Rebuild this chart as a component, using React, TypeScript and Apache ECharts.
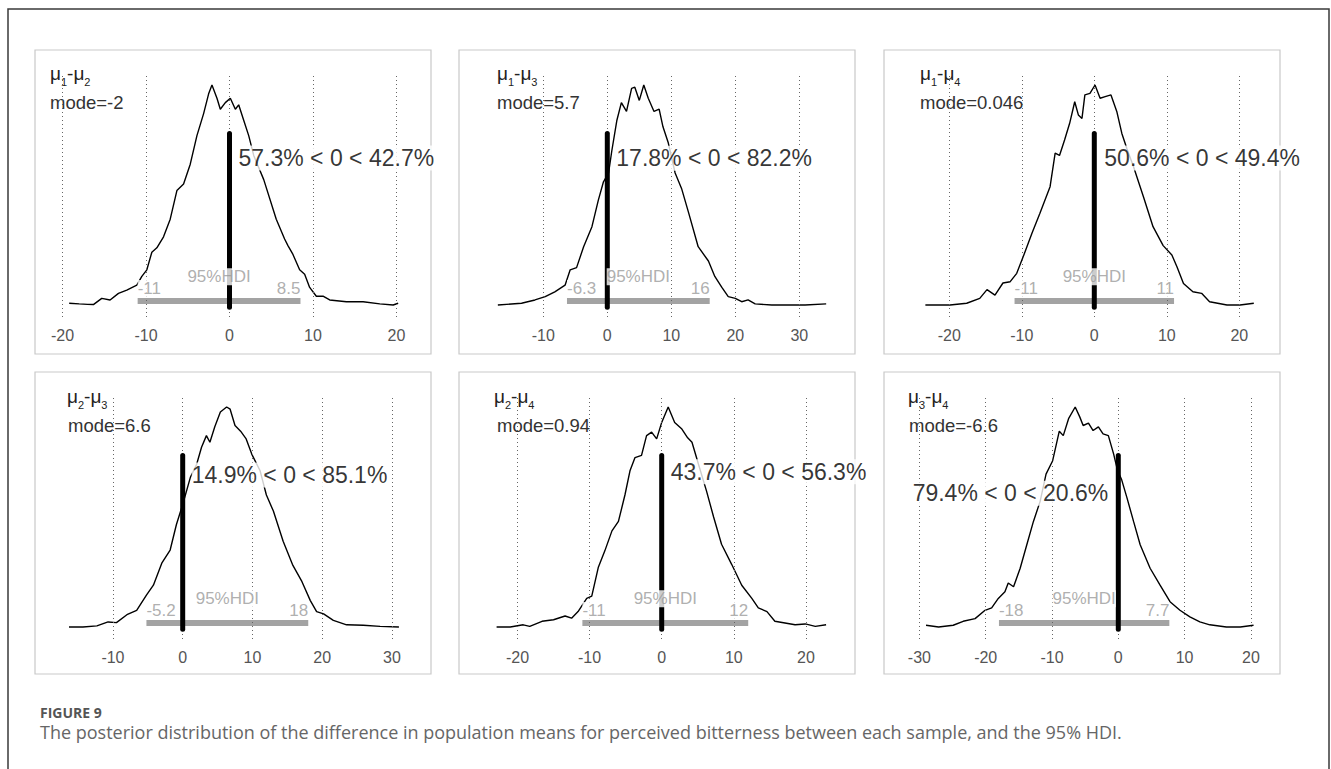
import React, { useEffect, useRef } from "react";
import * as echarts from "echarts";

// ---------- DATA ----------
const titleSubs = [["1", "2"], ["1", "3"], ["1", "4"], ["2", "3"], ["2", "4"], ["3", "4"]];
const modeLabels = ["mode=-2", "mode=5.7", "mode=0.046", "mode=6.6", "mode=0.94", "mode=-6.6"];
const pctLabels = [
  "57.3% < 0 < 42.7%",
  "17.8% < 0 < 82.2%",
  "50.6% < 0 < 49.4%",
  "14.9% < 0 < 85.1%",
  "43.7% < 0 < 56.3%",
  "79.4% < 0 < 20.6%",
];
const hdiLow = [-11, -6.3, -11, -5.2, -11, -18];
const hdiHigh = [8.5, 16, 11, 18, 12, 7.7];
const hdiLowLabels = ["-11", "-6.3", "-11", "-5.2", "-11", "-18"];
const hdiHighLabels = ["8.5", "16", "11", "18", "12", "7.7"];
const compValue = 0;
const tickValues = [
  [-20, -10, 0, 10, 20],
  [-10, 0, 10, 20, 30],
  [-20, -10, 0, 10, 20],
  [-10, 0, 10, 20, 30],
  [-20, -10, 0, 10, 20],
  [-30, -20, -10, 0, 10, 20],
];
const xRanges = [
  [-20, 20.3],
  [-17.2, 34.3],
  [-23.4, 22.1],
  [-16.4, 31.1],
  [-23, 22.9],
  [-30, 20.5],
];

// relative posterior density (percent of the peak)
const density12 = [[-19.2,0.8],[-18,0.5],[-17,0.3],[-16.3,0.2],[-15.3,3],[-14.3,2.3],[-13.3,5.3],[-12.3,6.8],[-11.1,9],[-10.5,13],[-9.9,16],[-9.3,24],[-8.7,26],[-7.9,31],[-7.1,39],[-6.3,52],[-5.5,55],[-4.7,64],[-3.9,77],[-3.1,87],[-2.5,96],[-2.1,100],[-1.5,94],[-1.1,89],[-0.5,92],[0.1,94],[0.7,89],[1.1,91],[1.7,84],[2.3,77],[2.9,68],[4.1,57],[5.6,39],[6.6,30],[7,27],[7.6,23],[8.4,16],[9,14],[9.6,8],[10.4,4],[11.2,4],[12,2.3],[14,1.5],[16,1.5],[18,0.5],[19.6,0],[20.2,0.8]];
const density13 = [[-17.1,0],[-13.4,0.8],[-11.3,2.3],[-9.7,3.8],[-8.2,6],[-6.6,9],[-5.8,16],[-4.8,17],[-3.7,26.5],[-2.4,35.6],[-1.4,47.7],[-0.6,56],[0.2,60],[0.7,70],[1.5,84],[2.2,92],[3,88],[3.8,98.5],[4.3,99],[5,93],[5.7,100],[6.4,94],[7.3,88],[8.1,89],[8.7,81],[9.5,74],[10.6,60],[11.6,53],[12.7,42],[14.2,26.5],[15.8,20],[16.8,13],[17.9,8],[18.9,3.8],[20,3],[21,1.5],[22,2.3],[23.1,0.5],[25.7,0],[28.3,0],[30.9,0],[34.2,0.5]];
const density14 = [[-23.3,0],[-21.7,0],[-19.9,0],[-17.6,0.8],[-15.8,3],[-14.8,7],[-13.7,4.5],[-12.6,10],[-11.6,10.6],[-10.7,14.4],[-9.8,22],[-8.6,32.6],[-7.5,41.7],[-6.1,53.8],[-5.4,69],[-4.8,68],[-4.1,75],[-3.4,82.6],[-2.7,92.4],[-2.2,86.4],[-1.7,84.8],[-1.3,95.5],[-0.6,96.2],[0.1,100],[0.8,94],[1.5,94.7],[2.3,95.5],[3.1,88],[3.8,78],[4.5,71],[5.4,63],[6.8,49],[8.1,35.6],[9.5,27],[10.7,22.7],[11.4,17.4],[12.3,9.8],[13.6,6],[14.8,5.3],[15.9,1.5],[18.3,0],[20.1,0],[22,0.8]];
const density23 = [[-16.3,0],[-14.3,0],[-12.3,0.5],[-10.7,2.3],[-9.5,2],[-8,5.6],[-6.6,7.6],[-5.2,14.5],[-4.2,19],[-3,29],[-1.8,35],[-0.9,46.6],[0,55.7],[1.1,68],[2,74],[2.7,81.7],[3.4,87],[3.9,84],[4.6,91],[5.4,97.7],[6.3,100],[6.8,99],[7.5,91.6],[8.3,89],[9.1,85.5],[9.9,78.6],[11.1,71],[12,60],[13,52.7],[14.4,39],[15.8,28],[17.1,20.6],[18.3,12],[19.2,7],[20.2,6],[21.6,3],[23.5,1],[25.9,0.8],[28.3,0.3],[31,0]];
const density24 = [[-22.9,0],[-21,0],[-19.2,1],[-18.3,0.3],[-16.6,2.6],[-15,3.3],[-13.4,5],[-12.5,4],[-11.6,7],[-10.4,13],[-9.7,14],[-8.8,27],[-7.9,34.5],[-6.9,43.7],[-6,48],[-5.1,60],[-4.4,71],[-3.7,77],[-2.8,78],[-2.1,87],[-1.4,88.6],[-0.7,85.5],[0,93],[0.9,100],[1.8,93],[2.8,90],[3.6,86],[4.2,84],[5.1,74],[6.2,62],[7.2,50],[8.3,37.6],[9.7,28.5],[11.1,19],[12.5,13],[13.4,8.7],[14.6,7],[15.7,2.6],[17.1,1.8],[18.5,1],[19.9,1.4],[21.3,0.3],[22.8,1]];
const density34 = [[-29,0.8],[-27.1,0],[-24.9,0.8],[-23.4,2.6],[-21.6,3.8],[-20.1,7.6],[-19.1,8.7],[-18.1,13],[-17.1,16],[-16.6,20],[-15.8,18.3],[-14.8,26.7],[-13.8,37.4],[-12.8,48],[-11.8,57],[-10.9,69.5],[-9.9,75.6],[-8.9,89],[-8.3,87],[-7.5,94.7],[-6.5,100],[-5.8,95.4],[-5.3,91.6],[-4.5,92.7],[-3.8,89.3],[-3,91],[-2.3,87.8],[-1.5,87],[-0.7,78.6],[-0.1,71],[0.5,67],[1.3,58.8],[2.3,48],[3.3,37.4],[4.8,26.7],[6.3,19],[7.8,11.5],[9.3,7.6],[10.8,4.6],[12.3,2.3],[13.8,1],[16.3,0],[18.4,0],[20.4,0.8]];
const densities = [density12, density13, density14, density23, density24, density34];

const captionHead = "FIGURE 9";
const captionText =
  "The posterior distribution of the difference in population means for perceived bitterness between each sample, and the 95% HDI.";

// ---------- LAYOUT / STYLE ----------
const FONT = "'Liberation Sans', Arial, Helvetica, sans-serif";
const CAP_FONT = "'Open Sans', 'Noto Sans', sans-serif";
const L = {
  panelX: [35, 459, 884],
  panelY: [50, 372],
  panelW: 396,
  panelH: [304, 302],
  gridTop: [75, 397],
  gridH: 242,
  yMin: -5.45,
  yMax: 104.55,
  zeroPx: [229.5, 607.3, 1094.3, 182.7, 661.7, 1118.3],
  pxPerUnit: [8.35, 6.4, 7.25, 6.975, 7.21, 6.63],
  titlePos: [[50, 73], [497, 73], [920, 73], [67, 396], [494, 396], [908, 396]],
  modePos: [[50, 102], [497, 102], [920, 102], [68, 425], [497, 425], [909, 425]],
  pctY: [66.8, 66.7, 66.8, 69.1, 70.6, 60.8],
  pctSide: ["right", "right", "right", "right", "right", "left"],
  pctDist: [9, 9, 10, 9, 9, 10],
  compTop: 78,
  compBottom: -1,
  hdiBarY: 1.8,
  hdiTextY: 12.9,
  hdiEndY: 7.5,
};

function buildOption() {
  const grid: any[] = [];
  const xAxis: any[] = [];
  const yAxis: any[] = [];
  const series: any[] = [];
  const graphic: any[] = [];

  graphic.push({
    type: "rect",
    shape: { x: 8, y: 9, width: 1321, height: 800 },
    style: { fill: "none", stroke: "#3a3a3a", lineWidth: 1.5 },
    silent: true,
  });

  for (let i = 0; i < 6; i++) {
    const row = Math.floor(i / 3);
    const col = i % 3;
    const [xmin, xmax] = xRanges[i];
    const ppu = L.pxPerUnit[i];
    grid.push({
      left: L.zeroPx[i] + xmin * ppu,
      top: L.gridTop[row],
      width: (xmax - xmin) * ppu,
      height: L.gridH,
    });
    xAxis.push({
      gridIndex: i,
      type: "value",
      min: xmin,
      max: xmax,
      axisLine: { show: false },
      axisTick: { show: false, customValues: tickValues[i] },
      splitLine: { show: false },
      axisLabel: {
        customValues: tickValues[i],
        color: "#555",
        fontSize: 16,
        fontFamily: FONT,
        margin: 10,
      },
    });
    yAxis.push({ gridIndex: i, type: "value", min: L.yMin, max: L.yMax, show: false });

    series.push({
      type: "line",
      xAxisIndex: i,
      yAxisIndex: i,
      data: densities[i],
      symbol: "none",
      smooth: false,
      lineStyle: { color: "#000", width: 1.4 },
      z: 3,
      markLine: {
        silent: true,
        symbol: ["none", "none"],
        label: { show: false },
        lineStyle: { color: "#666", width: 1, type: [1, 3] },
        data: tickValues[i].map((t) => ({ xAxis: t })),
      },
    });
    series.push({
      type: "line",
      xAxisIndex: i,
      yAxisIndex: i,
      data: [[hdiLow[i], L.hdiBarY], [hdiHigh[i], L.hdiBarY]],
      symbol: "none",
      lineStyle: { color: "#a3a3a3", width: 6, cap: "butt" },
      z: 4,
    });
    series.push({
      type: "line",
      xAxisIndex: i,
      yAxisIndex: i,
      data: [[compValue, L.compBottom], [compValue, L.compTop]],
      symbol: "none",
      lineStyle: { color: "#000", width: 5, cap: "round" },
      z: 5,
    });
    const grey = { color: "#9a9a9a", fontSize: 17, fontFamily: FONT, backgroundColor: "#fff" };
    series.push({
      type: "scatter",
      xAxisIndex: i,
      yAxisIndex: i,
      symbolSize: 0,
      silent: true,
      z: 10,
      data: [
        {
          value: [compValue, L.pctY[i]],
          label: {
            show: true,
            position: L.pctSide[i],
            distance: L.pctDist[i],
            formatter: pctLabels[i],
            color: "#000",
            fontSize: 23,
            fontFamily: FONT,
            backgroundColor: "#fff",
            padding: [1, 0],
          },
        },
        {
          value: [(hdiLow[i] + hdiHigh[i]) / 2, L.hdiTextY],
          label: { show: true, position: "inside", formatter: "95%HDI", ...grey },
        },
        {
          value: [hdiLow[i], L.hdiEndY],
          label: { show: true, position: "right", distance: 0, formatter: hdiLowLabels[i], ...grey },
        },
        {
          value: [hdiHigh[i], L.hdiEndY],
          label: { show: true, position: "left", distance: 0, formatter: hdiHighLabels[i], ...grey },
        },
      ],
    });

    graphic.push({
      type: "rect",
      shape: { x: L.panelX[col], y: L.panelY[row], width: L.panelW, height: L.panelH[row] },
      style: { fill: "none", stroke: "#c9c9c9", lineWidth: 1.2 },
      silent: true,
      z: -1,
    });
    graphic.push({
      type: "text",
      x: L.titlePos[i][0],
      y: L.titlePos[i][1],
      silent: true,
      style: {
        text: `{m|μ}{s|${titleSubs[i][0]}}{m|-μ}{s|${titleSubs[i][1]}}`,
        verticalAlign: "middle",
        align: "left",
        fill: "#222",
        rich: {
          m: { fontSize: 19, fontFamily: FONT, fill: "#222", lineHeight: 22, verticalAlign: "middle" },
          s: { fontSize: 11, fontFamily: FONT, fill: "#222", lineHeight: 11, verticalAlign: "bottom", padding: [0, 0, -3, 0] },
        },
      },
    });
    graphic.push({
      type: "text",
      x: L.modePos[i][0],
      y: L.modePos[i][1],
      silent: true,
      style: {
        text: modeLabels[i],
        fontSize: 18.5,
        fontFamily: FONT,
        fill: "#333",
        verticalAlign: "middle",
        align: "left",
      },
    });
  }

  graphic.push({
    type: "text",
    x: 40,
    y: 712,
    silent: true,
    style: {
      text: captionHead,
      fontSize: 14,
      fontWeight: "bold",
      fontFamily: CAP_FONT,
      fill: "#555",
      verticalAlign: "middle",
    },
  });
  graphic.push({
    type: "text",
    x: 40,
    y: 732,
    silent: true,
    style: {
      text: captionText,
      fontSize: 18,
      fontFamily: CAP_FONT,
      fill: "#666",
      verticalAlign: "middle",
    },
  });

  return {
    animation: false,
    backgroundColor: "#fff",
    grid,
    xAxis,
    yAxis,
    series,
    graphic,
  };
}

export default function App() {
  const ref = useRef<HTMLDivElement>(null);
  useEffect(() => {
    if (!ref.current) return;
    const chart = echarts.init(ref.current, undefined, { renderer: "svg" });
    chart.setOption(buildOption() as any);
    return () => chart.dispose();
  }, []);
  return (
    <div
      ref={ref}
      style={{ position: "absolute", left: 0, top: 0, width: 1331, height: 769, background: "#fff" }}
    />
  );
}
